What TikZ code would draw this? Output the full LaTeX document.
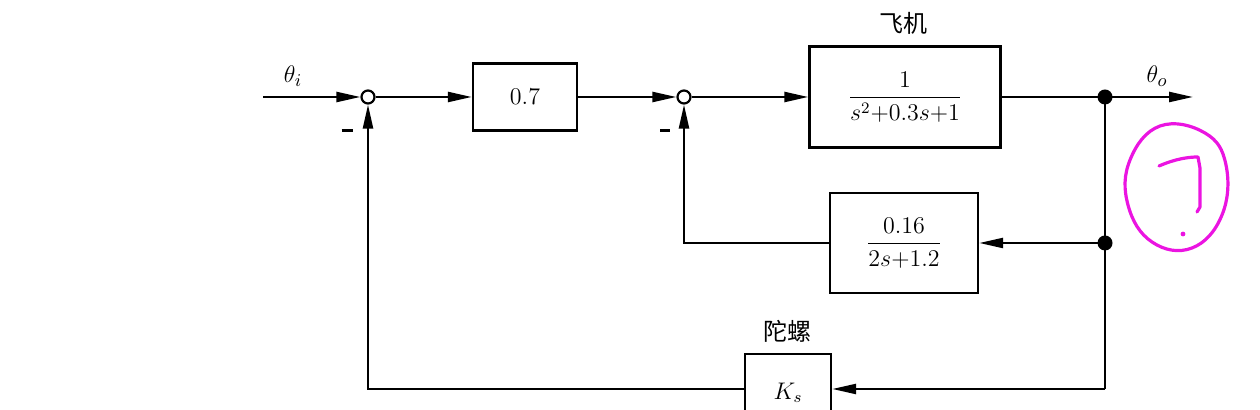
\documentclass[tikz,border=0pt]{standalone}
\usepackage{fontspec}
\newfontfamily\cjk{Noto Sans CJK SC}
\usetikzlibrary{arrows.meta}
\definecolor{pen}{RGB}{235,20,225}
\tikzset{
  ln/.style={line width=1.2pt},
  arr/.style={ln,-{Triangle[length=12pt,width=5pt]}},
  blk/.style={draw,ln,rectangle,inner sep=0pt,font=\fontsize{12}{14}\selectfont},
  sumc/.style={draw,circle,line width=1.1pt,inner sep=0pt,minimum size=6.5pt,fill=white},
  jdot/.style={fill,circle,inner sep=0pt,minimum size=7.5pt},
  lbl/.style={font=\fontsize{13}{15}\selectfont,inner sep=0pt},
  cjklbl/.style={font=\cjk\fontsize{12}{14}\selectfont,inner sep=0pt},
  hmark/.style={pen,line width=1.6pt,line cap=round,line join=round}
}
\begin{document}
\begin{tikzpicture}[x=0.5pt,y=-0.5pt]
\useasboundingbox (0,0) rectangle (1260,410);
\clip (0,0) rectangle (1260,410);
% nodes
\coordinate (in) at (263,97);
\node[sumc] (s1) at (368,97) {};
\node[blk,minimum width=52pt,minimum height=33.5pt] (b07) at (525,97) {$0.7$};
\node[sumc] (s2) at (684,97) {};
\node[blk,minimum width=95.5pt,minimum height=50.5pt] (plant) at (905,97) {$\displaystyle\frac{1}{s^2{+}0.3s{+}1}$};
\node[jdot] (d1) at (1105,97) {};
\coordinate (out) at (1193,97);
\node[jdot] (d2) at (1105,243) {};
\node[blk,minimum width=74pt,minimum height=50pt] (fb) at (904,243) {$\displaystyle\frac{0.16}{2s{+}1.2}$};
\node[blk,minimum width=43pt,minimum height=35pt,text depth=0pt] (ks) at (788,389) {\raisebox{-2pt}{$K_s$}};
\coordinate (d3) at (1105,389);
% labels
\node[lbl] (thi) at (293,76) {$\theta_i$};
\node[lbl] (tho) at (1157,76) {$\theta_o$};
\node[cjklbl] (fj) at (903,23) {飞机};
\node[cjklbl] (tl) at (787,331) {陀螺};
\node[lbl] (m1) at (347,131) {\rule{5.5pt}{1.5pt}};
\node[lbl] (m2) at (665,131) {\rule{5pt}{1.5pt}};
% connectors
\draw[arr] (in) -- (s1.west);
\draw[arr] (s1.east) -- (b07.west);
\draw[arr] (b07.east) -- (s2.west);
\draw[arr] (s2.east) -- (plant.west);
\draw[ln] (plant.east) -- (d1.center);
\draw[arr] (d1.center) -- (out);
\draw[ln] (d1.center) -- (d2.center) -- (d3);
\draw[arr] (d2.center) -- (fb.east);
\draw[arr] (d3) -- (ks.east);
\draw[arr] (fb.west) -| (s2.south);
\draw[arr] (ks.west) -| (s1.south);
% handwritten annotation
\draw[hmark] plot[smooth cycle,tension=0.7] coordinates {(1160,126) (1205,133) (1226,165) (1222,215) (1192,248) (1152,242) (1128,205) (1130,160)};
\draw[hmark] (1159,166) .. controls (1175,159) and (1188,157) .. (1198,157) -- (1200,168) -- (1200,207) -- (1197,212);
\fill[pen] (1183,234) circle (1.2pt);
\end{tikzpicture}
\end{document}
